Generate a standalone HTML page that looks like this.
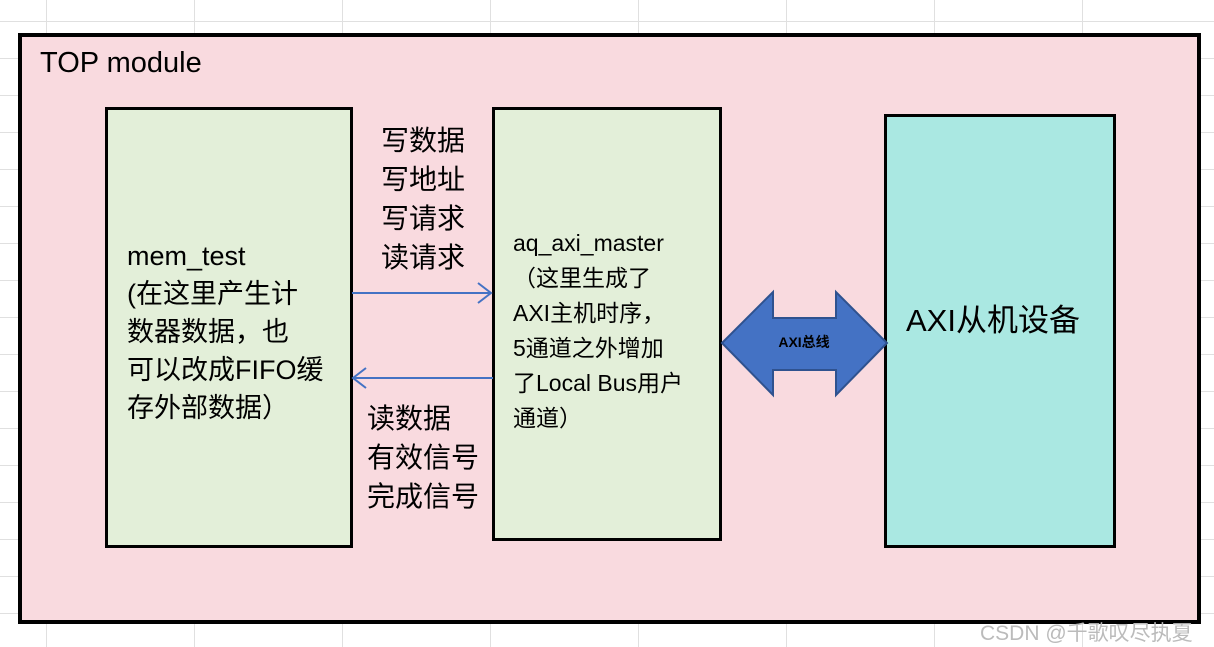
<!DOCTYPE html>
<html><head><meta charset="utf-8"><style>
body{margin:0;width:1214px;height:647px;overflow:hidden;background:#fff;position:relative;font-family:"Liberation Sans","Noto Sans CJK SC",sans-serif;}
.grid{position:absolute;left:0;top:0;width:1214px;height:647px;
background-image:linear-gradient(to right,#e0e0e0 1px,transparent 1px),linear-gradient(to bottom,#e0e0e0 1px,transparent 1px);
background-size:148px 37px;background-position:46px 21px;}
.b{position:absolute;box-sizing:border-box;}
.t{position:absolute;color:#000;white-space:nowrap;}
</style></head><body>
<div class="grid"></div>
<div class="b" style="left:18px;top:33px;width:1183px;height:591px;border:4px solid #000;background:#f9dadf"></div>
<div class="t" style="left:40px;top:47px;font-size:29px">TOP module</div>
<div class="b" style="left:105px;top:107px;width:248px;height:441px;border:3px solid #000;background:#e3efd9"></div>
<div class="t" style="left:127px;top:237px;font-size:27px;line-height:38px">mem_test<br>(在这里产生计<br>数器数据，也<br>可以改成FIFO缓<br>存外部数据）</div>
<div class="b" style="left:492px;top:107px;width:230px;height:434px;border:3px solid #000;background:#e3efd9"></div>
<div class="t" style="left:513px;top:226px;font-size:23px;line-height:35px">aq_axi_master<br>（这里生成了<br>AXI主机时序，<br>5通道之外增加<br>了Local Bus用户<br>通道）</div>
<div class="b" style="left:884px;top:114px;width:232px;height:434px;border:3px solid #000;background:#aae8e2"></div>
<div class="t" style="left:906px;top:295px;font-size:31px">AXI从机设备</div>
<div class="t" style="left:381px;top:121px;font-size:28px;line-height:39px">写数据<br>写地址<br>写请求<br>读请求</div>
<div class="t" style="left:367px;top:399px;font-size:28px;line-height:39px">读数据<br>有效信号<br>完成信号</div>
<svg class="b" style="left:0;top:0" width="1214" height="647">
<g stroke="#4472c4" stroke-width="2" fill="none">
<line x1="352" y1="293" x2="491" y2="293"/><polyline points="478,283 491,293 478,303"/>
<line x1="353" y1="378" x2="493" y2="378"/><polyline points="366,368 353,378 366,388"/>
</g>
<polygon points="722,343 773,292 773,318 836,318 836,292 887,343 836,395 836,370 773,370 773,395" fill="#4472c4" stroke="#2f528f" stroke-width="2"/>
<text x="804" y="347" font-size="14" font-weight="bold" text-anchor="middle" font-family="Liberation Sans,Noto Sans CJK SC,sans-serif">AXI总线</text>
</svg>
<div class="t" style="left:980px;top:617px;font-size:21px;color:#bbb">CSDN @千歌叹尽执夏</div>
</body></html>
